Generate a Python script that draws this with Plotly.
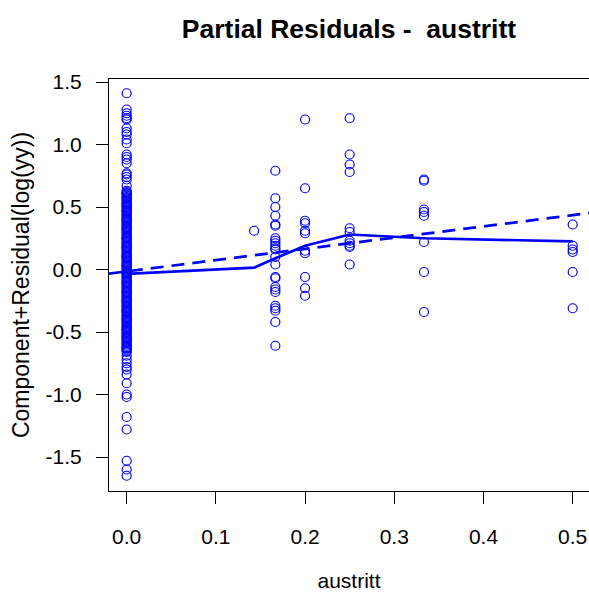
import plotly.graph_objects as go

# Partial residuals for the predictor "austritt"
# Observations at austritt = 0 (dense column)
zero_y = [
    1.41, 1.28, 1.25, 1.23, 1.21, 1.20, 1.13, 1.10, 1.08, 1.04, 1.01,
    0.92, 0.90, 0.88, 0.85, 0.77, 0.76, 0.74, 0.72, 0.67,
    0.63, 0.62, 0.61, 0.61, 0.60, 0.59, 0.58, 0.57, 0.57, 0.56, 0.55, 0.54,
    0.53, 0.52, 0.52, 0.51, 0.50, 0.49, 0.48, 0.47, 0.47, 0.46, 0.45, 0.44,
    0.43, 0.42, 0.41, 0.40, 0.40, 0.39, 0.38, 0.37, 0.36, 0.35, 0.34, 0.33,
    0.33, 0.32, 0.31, 0.30, 0.29, 0.28, 0.27, 0.26, 0.25, 0.25, 0.24, 0.23,
    0.22, 0.21, 0.20, 0.19, 0.18, 0.18, 0.17, 0.16, 0.15, 0.14, 0.13, 0.12,
    0.11, 0.10, 0.10, 0.09, 0.08, 0.07, 0.06, 0.05, 0.04, 0.03, 0.03, 0.02,
    0.01, 0.00, -0.01, -0.02, -0.03, -0.03, -0.04, -0.05, -0.06, -0.07,
    -0.08, -0.09, -0.10, -0.10, -0.11, -0.12, -0.13, -0.14, -0.15, -0.16,
    -0.17, -0.18, -0.18, -0.19, -0.20, -0.21, -0.22, -0.23, -0.24, -0.25,
    -0.25, -0.26, -0.27, -0.28, -0.29, -0.30, -0.31, -0.32, -0.33, -0.33,
    -0.34, -0.35, -0.36, -0.37, -0.38, -0.39, -0.40, -0.40, -0.41, -0.42,
    -0.43, -0.44, -0.45, -0.46, -0.47, -0.48, -0.48, -0.49, -0.50, -0.51,
    -0.52, -0.53, -0.54, -0.55, -0.55, -0.56, -0.57, -0.58, -0.59, -0.60,
    -0.61, -0.62, -0.63, -0.63, -0.64, -0.65, -0.66,
    -0.69, -0.72, -0.75, -0.78, -0.80, -0.84, -0.91, -1.00, -1.02,
    -1.18, -1.28, -1.53, -1.60, -1.65,
]

# Observations at the remaining austritt levels
level_1_7_y = [0.31]
level_1_6_y = [0.79, 0.57, 0.50, 0.43, 0.36, 0.35, 0.25, 0.23, 0.21, 0.19,
               0.17, 0.16, 0.10, 0.04, -0.06, -0.07, -0.14, -0.16, -0.18,
               -0.29, -0.31, -0.33, -0.42, -0.61]
level_1_5_y = [1.20, 0.65, 0.39, 0.37, 0.31, 0.29, 0.15, 0.13, -0.06, -0.15,
               -0.21]
level_1_4_y = [1.21, 0.92, 0.84, 0.78, 0.33, 0.30, 0.23, 0.21, 0.19, 0.18,
               0.04]
level_1_3_y = [0.72, 0.71, 0.48, 0.46, 0.43, 0.22, -0.02, -0.34]
level_1_2_y = [0.36, 0.19, 0.16, 0.14, -0.02, -0.31]

levels = [0.0, 0.1429, 0.1667, 0.2, 0.25, 0.3333, 0.5]
groups = [zero_y, level_1_7_y, level_1_6_y, level_1_5_y, level_1_4_y,
          level_1_3_y, level_1_2_y]

# Smoothed (lowess) curve through the levels
smooth_x = [0.0, 0.1429, 0.1667, 0.2, 0.25, 0.3333, 0.5]
smooth_y = [-0.035, 0.015, 0.09, 0.19, 0.28, 0.25, 0.225]

# Linear component: intercept and slope
fit_intercept = -0.015
fit_slope = 0.9

x_ticks = [0.0, 0.1, 0.2, 0.3, 0.4, 0.5]
y_ticks = [-1.5, -1.0, -0.5, 0.0, 0.5, 1.0, 1.5]
x_tick_labels = ["0.0", "0.1", "0.2", "0.3", "0.4", "0.5"]
y_tick_labels = ["-1.5", "-1.0", "-0.5", "0.0", "0.5", "1.0", "1.5"]

x_range = [-0.0198, 0.5183]
y_range = [-1.772, 1.524]

BLUE = "#0000FF"
FONT = "Liberation Sans, Arial, sans-serif"

pts_x, pts_y = [], []
for lv, ys in zip(levels, groups):
    pts_x += [lv] * len(ys)
    pts_y += ys

fig = go.Figure()
fig.add_trace(go.Scatter(
    x=pts_x, y=pts_y, mode="markers",
    marker=dict(symbol="circle-open", size=9, color=BLUE,
                line=dict(width=1.2, color=BLUE)),
    showlegend=False, hoverinfo="skip",
))
fig.add_trace(go.Scatter(
    x=x_range, y=[fit_intercept + fit_slope * v for v in x_range],
    mode="lines", line=dict(color=BLUE, width=2.7, dash="13px,8px"),
    showlegend=False, hoverinfo="skip",
))
fig.add_trace(go.Scatter(
    x=smooth_x, y=smooth_y, mode="lines",
    line=dict(color=BLUE, width=2.7),
    showlegend=False, hoverinfo="skip",
))

axis_common = dict(
    showgrid=False, zeroline=False, showline=True, linecolor="black",
    linewidth=1, ticks="outside", ticklen=12, tickwidth=1,
    tickcolor="black",
    tickfont=dict(family=FONT, size=21, color="black"),
)

fig.update_layout(
    width=589, height=597,
    margin=dict(l=109, r=0, t=79, b=106, autoexpand=False),
    paper_bgcolor="white", plot_bgcolor="white",
    title=dict(text="<b>Partial Residuals -\u00a0 austritt</b>",
               font=dict(family=FONT, size=26.5, color="black"),
               x=0.5, xref="paper", xanchor="center",
               y=1 - 29 / 597, yref="container", yanchor="middle"),
    xaxis=dict(range=x_range, tickvals=x_ticks, ticktext=x_tick_labels,
               mirror=True, ticklabelstandoff=15,
               title=dict(text="austritt", standoff=26,
                          font=dict(family=FONT, size=21, color="black")),
               automargin=False, **axis_common),
    yaxis=dict(range=y_range, tickvals=y_ticks, ticktext=y_tick_labels,
               mirror=False, ticklabelstandoff=10,
               title=dict(text="Component+Residual(log(yy))", standoff=9,
                          font=dict(family=FONT, size=23, color="black")),
               automargin=False, **axis_common),
)

fig.write_html("out.html")
